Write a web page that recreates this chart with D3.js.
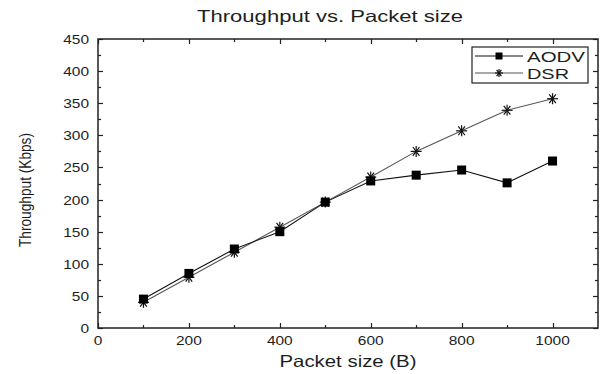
<!DOCTYPE html>
<html><head><meta charset="utf-8">
<script src="https://cdn.jsdelivr.net/npm/d3@7"></script>
<style>body{margin:0;background:#fff}svg{display:block}text{font-family:"Liberation Sans",Arial,sans-serif;fill:#1e1e1e}</style>
</head><body><svg id="c" width="601" height="374"></svg>
<script>
const packetSizes = [100,200,300,400,500,600,700,800,900,1000];
const aodv = [45,85,123,150,196,229,238,246,226,260];
const dsr  = [40,79,118,157,196,235,275,307,339,357];
const xTicks = [0,200,400,600,800,1000];
const yTicks = [0,50,100,150,200,250,300,350,400,450];
const seriesNames = ["AODV","DSR"];

const svg = d3.select("#c");
const L=98,R=598,T=39,B=328;
const x = d3.scaleLinear().domain([0,1100]).range([L,R]);
const y = d3.scaleLinear().domain([0,450]).range([B,T]);
const g = svg.append("g");

function txt(sel,s,len){sel.text(s).attr("textLength",len).attr("lengthAdjust","spacingAndGlyphs");return sel;}

// ticks
const xMinor = d3.range(100,1100,200);
const yMinor = d3.range(25,450,50);
function tick(x1,y1,x2,y2){g.append("line").attr("x1",x1).attr("y1",y1).attr("x2",x2).attr("y2",y2).attr("stroke","#222").attr("stroke-width",1.2);}
xTicks.concat(xMinor).forEach(v=>{const len=xTicks.includes(v)?5:3;const px=Math.round(x(v))+0.5;tick(px,B,px,B-len);tick(px,T,px,T+len);});
yTicks.concat(yMinor).forEach(v=>{const len=yTicks.includes(v)?5:3;const py=Math.round(y(v))+0.5;tick(L,py,L+len,py);tick(R,py,R-len,py);});
g.append("rect").attr("x",L).attr("y",T).attr("width",R-L).attr("height",B-T).attr("fill","none").attr("stroke","#222").attr("stroke-width",1.5);

xTicks.forEach(v=>txt(g.append("text").attr("x",x(v)).attr("y",B+17).attr("text-anchor","middle").attr("font-size",13.5),String(v),String(v).length*8.6));
yTicks.forEach(v=>txt(g.append("text").attr("x",L-9).attr("y",y(v)+5).attr("text-anchor","end").attr("font-size",13.5),String(v),String(v).length*8.6));

txt(svg.append("text").attr("x",330).attr("y",22).attr("text-anchor","middle").attr("font-size",16.5),"Throughput vs. Packet size",266);
txt(svg.append("text").attr("x",348).attr("y",366.5).attr("text-anchor","middle").attr("font-size",16.5),"Packet size (B)",137);
txt(svg.append("text").attr("transform","translate(31,190) rotate(-90)").attr("text-anchor","middle").attr("font-size",17),"Throughput (Kbps)",114);

const line = d3.line().x((d,i)=>x(packetSizes[i])).y(d=>y(d));
g.append("path").datum(dsr).attr("d",line).attr("fill","none").attr("stroke","#555").attr("stroke-width",1.1);
g.append("path").datum(aodv).attr("d",line).attr("fill","none").attr("stroke","#111").attr("stroke-width",1.1);

function drawStar(cx,cy,s){
  const gg=g.append("g").attr("transform",`translate(${cx},${cy})`);
  [[-s,0,s,0],[-s*0.6,-s*0.8,s*0.6,s*0.8],[-s*0.6,s*0.8,s*0.6,-s*0.8],[0,-s,0,s]].forEach(a=>gg.append("line").attr("x1",a[0]).attr("y1",a[1]).attr("x2",a[2]).attr("y2",a[3]).attr("stroke","#111").attr("stroke-width",1.2));
}
function drawSq(cx,cy,s){g.append("rect").attr("x",cx-s/2).attr("y",cy-s/2).attr("width",s).attr("height",s).attr("fill","#000");}
dsr.forEach((d,i)=>drawStar(x(packetSizes[i]),y(d),5.5));
aodv.forEach((d,i)=>drawSq(x(packetSizes[i]),y(d),9));

// legend
g.append("rect").attr("x",472).attr("y",47).attr("width",116).attr("height",36).attr("fill","#fff").attr("stroke","#222").attr("stroke-width",1.2);
const legW=[58,42];
[0,1].forEach(i=>{
  const ly=56+i*17;
  g.append("line").attr("x1",475).attr("x2",523).attr("y1",ly).attr("y2",ly).attr("stroke",i?"#555":"#111").attr("stroke-width",1.1);
  if(i===0) drawSq(499,ly,7); else drawStar(499,ly,4);
  txt(g.append("text").attr("x",527).attr("y",ly+6).attr("font-size",15.5),seriesNames[i],legW[i]);
});
</script></body></html>
